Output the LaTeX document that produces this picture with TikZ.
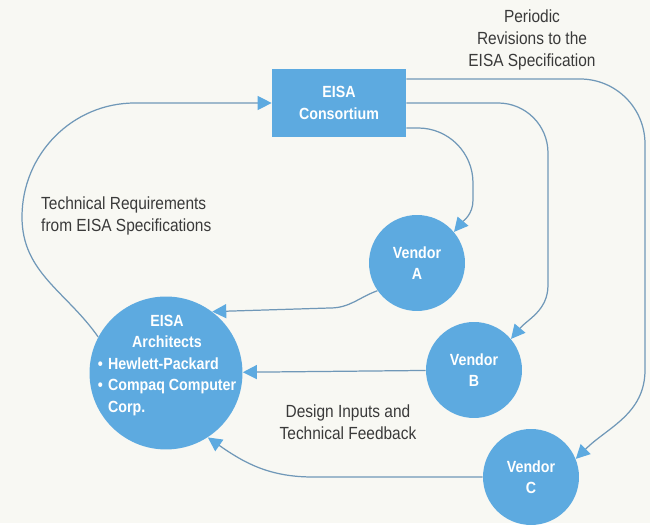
\documentclass[tikz,border=0pt]{standalone}
\usepackage{fontspec}
\setmainfont{Liberation Sans}[FakeStretch=0.88]
\usetikzlibrary{arrows.meta}
\definecolor{eisablue}{RGB}{93,170,224}
\definecolor{wire}{RGB}{112,152,184}
\definecolor{paper}{RGB}{248,248,243}
\definecolor{ink}{RGB}{58,58,58}

\begin{document}
\begin{tikzpicture}[x=0.02cm, y=0.02cm,
  consbox/.style={fill=eisablue, minimum width=2.68cm, minimum height=1.36cm, inner sep=0pt},
  vend/.style={circle, fill=eisablue, minimum size=1.92cm, inner sep=0pt},
  wtxt/.style={text=white, font=\fontsize{9.2}{12.2}\selectfont\bfseries, align=center},
  note/.style={text=ink, font=\fontsize{10}{12.3}\selectfont},
  flow/.style={draw=wire, line width=0.7pt, -{Triangle[length=2.8mm, width=2.8mm, color=eisablue]}}]
\fill[paper] (0,0) rectangle (650,523);
\node[consbox, wtxt] (cons) at (339,420) {EISA\\Consortium};
\node[vend, wtxt] (venA) at (417,260) {Vendor\\A};
\node[vend, wtxt] (venB) at (474,153) {Vendor\\B};
\node[vend, wtxt] (venC) at (531,46)  {Vendor\\C};
\node[vend, minimum size=3.06cm] (arch) at (166,150) {};
\node[wtxt] (archtxt) at (167,158) {\begin{tabular}{@{}l@{\hspace{3pt}}l@{}}
  \multicolumn{2}{c}{EISA}\\ \multicolumn{2}{c}{Architects}\\
  \textbullet & Hewlett-Packard\\ \textbullet & Compaq Computer\\ & Corp.\end{tabular}};
\node[note, align=center] (revlbl) at (532,483) {Periodic\\Revisions to the\\EISA Specification};
\node[note, align=left, anchor=west] (reqlbl) at (35,307) {Technical Requirements\\from EISA Specifications};
\node[note, align=center] (fbklbl) at (348,101) {Design Inputs and\\Technical Feedback};
\draw[flow] ([yshift=0.48cm]cons.east) -- (580,444) to[out=0,in=90] (645,379) -- (645,153) to[out=-90,in=45] (venC.22);
\draw[flow] (cons.east) -- (498,420) to[out=0,in=90] (548,370) -- (548,238) to[out=-90,in=50] (venB.40);
\draw[flow] ([yshift=-0.5cm]cons.east) -- (418,395) to[out=0,in=90] (473,340) -- (473,323) to[out=-90,in=50] (venA.40);
\draw[flow] (venA.215) to[out=200,in=0] (330,215) -- (arch.53);
\draw[flow] (venB) -- (arch);
\draw[flow] (venC.west) -- ++(-170,0) to[out=180,in=-35] (arch.-57);
\draw[flow] (arch.152) to[out=125,in=-90] (22,306) to[out=90,in=180] (135,420) -- (cons.west);
\end{tikzpicture}
\end{document}
